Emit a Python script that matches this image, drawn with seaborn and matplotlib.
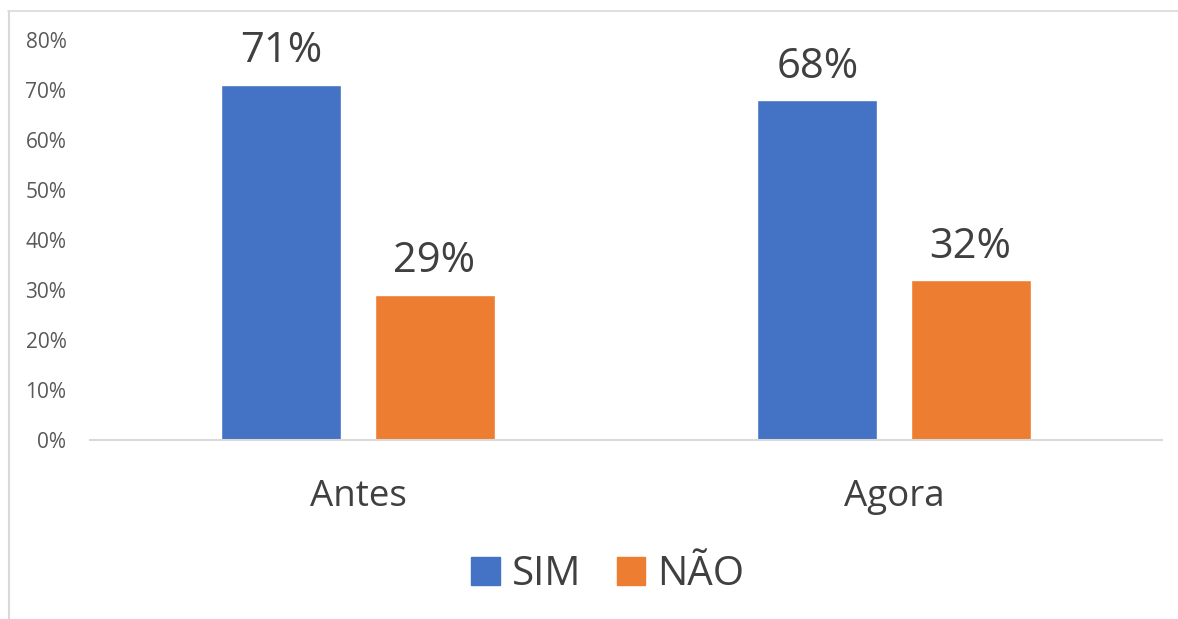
import pandas as pd
import matplotlib.pyplot as plt
import seaborn as sns
from matplotlib.lines import Line2D

categories = ['Antes', 'Agora']
series_names = ['SIM', 'NÃO']
sim_values = [71, 68]
nao_values = [29, 32]
y_ticks = [0, 10, 20, 30, 40, 50, 60, 70, 80]
colors = ['#4472C4', '#ED7D31']

df = pd.DataFrame({
    'momento': categories * 2,
    'resposta': [series_names[0]] * 2 + [series_names[1]] * 2,
    'valor': sim_values + nao_values,
})

sns.set_theme(style='white')
plt.rcParams['font.family'] = ['Open Sans', 'DejaVu Sans']

fig = plt.figure(figsize=(11.78, 6.19), dpi=100)
ax = fig.add_axes([90 / 1178, 179 / 619, 1072 / 1178, 400 / 619])

sns.barplot(data=df, x='momento', y='valor', hue='resposta',
            order=categories, hue_order=series_names,
            palette=colors, width=0.571, gap=0.216, saturation=1,
            ax=ax, legend=False)

for cont in ax.containers:
    ax.bar_label(cont, labels=[f'{v:.0f}%' for v in cont.datavalues],
                 padding=9, fontsize=30, color='#404040')

ax.set_ylim(0, 80)
ax.set_xlim(-0.5, 1.5)
ax.set_yticks(y_ticks)
ax.set_yticklabels([f'{t}%' for t in y_ticks])
ax.tick_params(axis='y', length=0, pad=17, labelsize=15, labelcolor='#595959')
ax.tick_params(axis='x', length=0, pad=28, labelsize=26.5, labelcolor='#404040')
ax.set_xlabel('')
ax.set_ylabel('')
for side in ['top', 'right', 'left']:
    ax.spines[side].set_visible(False)
ax.spines['bottom'].set_color('#D9D9D9')
ax.spines['bottom'].set_linewidth(1.5)

# chart area border (top and left edges visible)
fig.add_artist(Line2D([8 / 1178, 1], [1 - 11 / 619, 1 - 11 / 619],
                      transform=fig.transFigure, color='#D9D9D9', lw=1.2))
fig.add_artist(Line2D([9 / 1178, 9 / 1178], [0, 1 - 11 / 619],
                      transform=fig.transFigure, color='#D9D9D9', lw=1.5))

handles = [plt.Rectangle((0, 0), 1, 1, color=c) for c in colors]
fig.legend(handles, series_names, loc='center', bbox_to_anchor=(608 / 1178, 44 / 619),
           ncol=2, frameon=False, fontsize=29, labelcolor='#404040',
           handlelength=0.7, handleheight=0.7, handletextpad=0.3,
           columnspacing=0.9)

fig.savefig('out.png', dpi=100)
